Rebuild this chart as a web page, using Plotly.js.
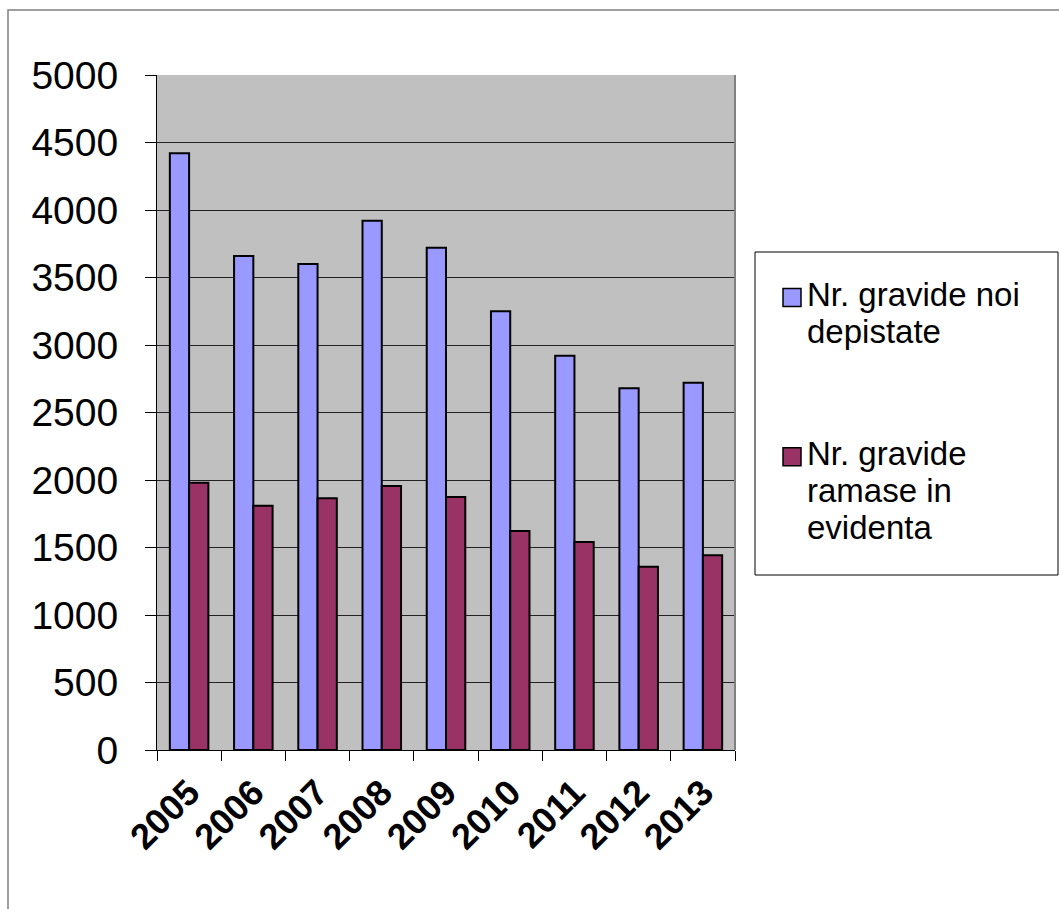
<!DOCTYPE html>
<html>
<head>
<meta charset="utf-8">
<script src="https://cdn.plot.ly/plotly-3.0.1.min.js"></script>
<style>html,body{margin:0;padding:0;background:#fff;}#chart{width:1059px;height:909px;}</style>
</head>
<body>
<div id="chart"></div>
<script>
var years = ["2005","2006","2007","2008","2009","2010","2011","2012","2013"];
var noiDepistate = [4420, 3660, 3600, 3920, 3720, 3250, 2920, 2680, 2720];
var ramaseEvidenta = [1980, 1810, 1865, 1955, 1875, 1622, 1541, 1358, 1442];
var seriesNames = ["Nr. gravide noi depistate", "Nr. gravide ramase in evidenta"];
var legendLines = [["Nr. gravide noi", "depistate"], ["Nr. gravide", "ramase in", "evidenta"]];
var seriesColors = ['#9999FF', '#993366'];

var W = 1059, H = 909;
var L = 157, R = 735, T = 75, B = 750;
function px(x){ return (x - L) / (R - L); }
function py(y){ return (B - y) / (B - T); }

var traces = [
  {type:'bar', x: years, y: noiDepistate, name: seriesNames[0],
   marker:{color:seriesColors[0], line:{color:'#000000', width:2}}},
  {type:'bar', x: years, y: ramaseEvidenta, name: seriesNames[1],
   marker:{color:seriesColors[1], line:{color:'#000000', width:2}}}
];

var shapes = [
  {type:'rect', xref:'paper', yref:'paper', x0:px(8), x1:px(1070), y0:py(920), y1:py(10),
   line:{color:'#808080', width:1.5}, fillcolor:'rgba(0,0,0,0)', layer:'below'},
  {type:'rect', xref:'paper', yref:'paper', x0:px(755), x1:px(1058), y0:py(575), y1:py(252),
   line:{color:'#000', width:1}, fillcolor:'#fff', layer:'below'},
  {type:'line', xref:'paper', yref:'paper', x0:1, x1:1, y0:0, y1:1,
   line:{color:'#808080', width:2}}
];
var annotations = [];
var itemBase = [305.5, 464.7]; // baseline of first line of each legend item
var lineStep = 37;
var fs = 33;
for (var i = 0; i < legendLines.length; i++) {
  var base = itemBase[i];
  shapes.push({type:'rect', xref:'paper', yref:'paper',
    x0:px(783), x1:px(801), y0:py(base + 1), y1:py(base - 17),
    line:{color:'#000', width:1.5}, fillcolor:seriesColors[i]});
  for (var j = 0; j < legendLines[i].length; j++) {
    annotations.push({xref:'paper', yref:'paper', x:px(806), y:py(base + j*lineStep - 11.5),
      xanchor:'left', yanchor:'middle', showarrow:false, borderpad:0, text:legendLines[i][j],
      font:{size:fs, color:'#000', family:'Liberation Sans, Arial, sans-serif'}});
  }
}

var layout = {
  width: W, height: H,
  margin:{l:L, r:W-R, t:T, b:H-B, pad:0},
  paper_bgcolor:'#ffffff',
  plot_bgcolor:'#C0C0C0',
  barmode:'group', bargap:0.4, bargroupgap:0,
  font:{family:'Liberation Sans, Arial, sans-serif', color:'#000'},
  showlegend:false,
  xaxis:{
    type:'category',
    tickangle:-45,
    tickfont:{size:36, weight:'bold', family:'Liberation Sans, Arial, sans-serif'},
    ticks:'outside', ticklen:10, tickcolor:'#000', tickwidth:1,
    tickson:'boundaries', ticklabelstandoff:6,
    showline:true, linecolor:'#000', linewidth:1,
    showgrid:false, zeroline:false
  },
  yaxis:{
    range:[0,5000], dtick:500, tick0:0,
    tickfont:{size:39},
    ticks:'outside', ticklen:11, tickcolor:'#000', tickwidth:1,
    showline:true, linecolor:'#000', linewidth:1,
    showgrid:true, gridcolor:'#222', gridwidth:1,
    zeroline:false, ticklabelstandoff:19
  },
  shapes: shapes,
  annotations: annotations
};

Plotly.newPlot('chart', traces, layout, {displayModeBar:false, staticPlot:true});
</script>
</body>
</html>
